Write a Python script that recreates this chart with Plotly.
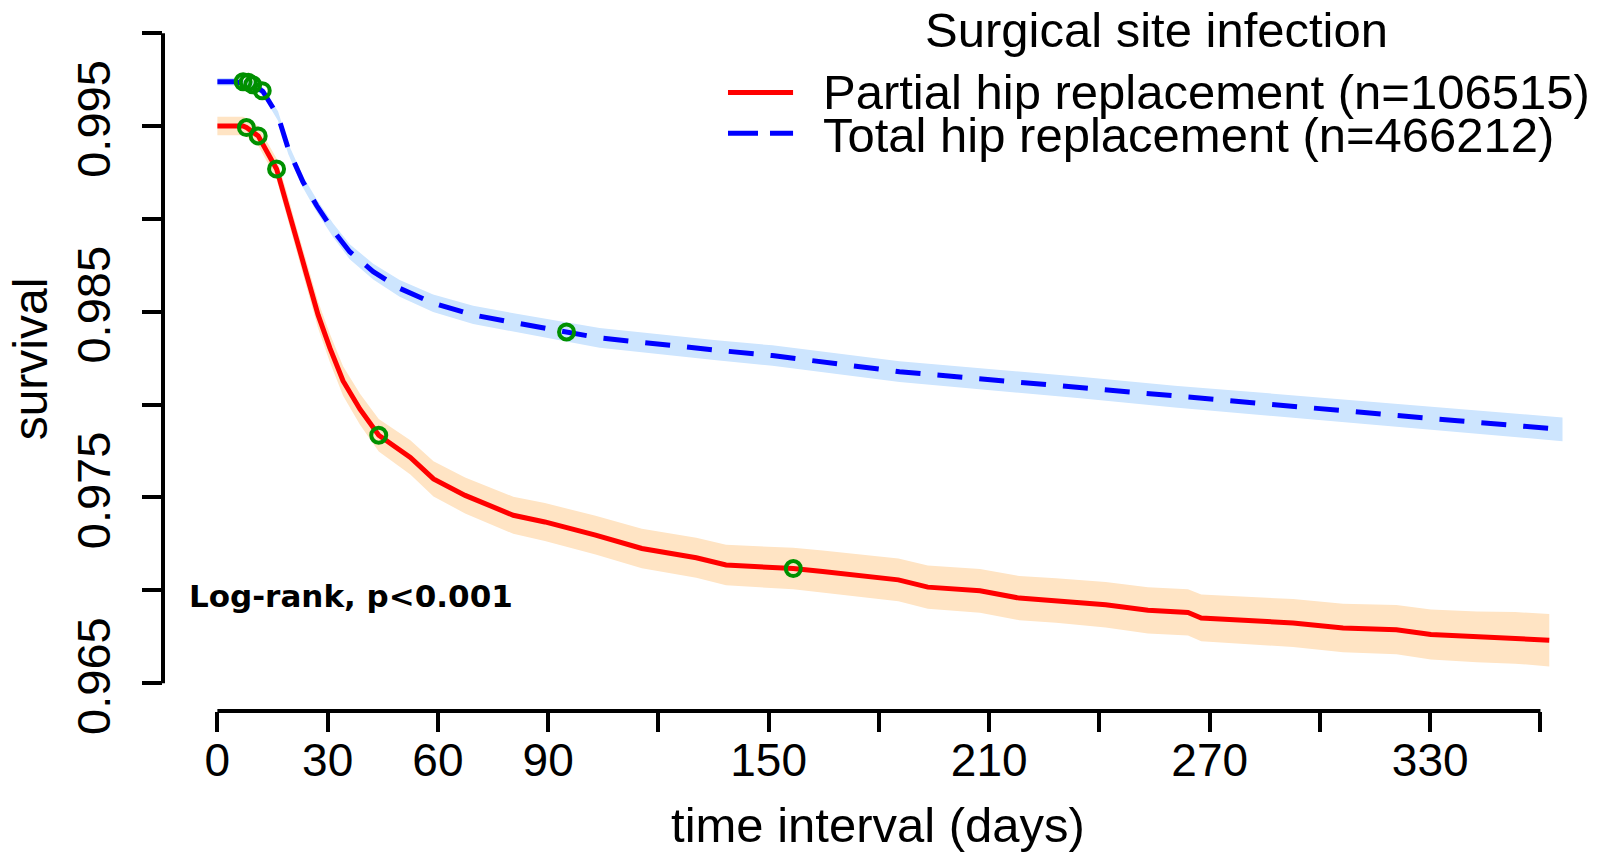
import plotly.graph_objects as go

# ---------------- data ----------------
days_partial = [0, 7, 7.9, 11.1, 16.1, 18.8, 21.5, 24.3, 27.4, 30.6, 34.2, 38.8, 43.9, 52.5,
                58.8, 67.4, 80.5, 89.1, 102.9, 115.5, 130.3, 138.4, 156.7, 164.7, 185.3,
                193.3, 207.5, 218.2, 228.2, 241.7, 253.2, 264.1, 267.7, 292.7, 306.3, 320.8,
                330.2, 342.7, 353.1, 362.4]
surv_partial = [0.99500, 0.99500, 0.99492, 0.99447, 0.99269, 0.99090, 0.98894, 0.98698,
                0.98483, 0.98305, 0.98127, 0.97975, 0.97835, 0.97716, 0.97600, 0.97511,
                0.97404, 0.97368, 0.97297, 0.97225, 0.97175, 0.97136, 0.97117, 0.97101,
                0.97056, 0.97017, 0.96997, 0.96958, 0.96945, 0.96922, 0.96892, 0.96881,
                0.96851, 0.96824, 0.96797, 0.96788, 0.96762, 0.96749, 0.96744, 0.96731]
upper_partial = [0.99550, 0.99550, 0.99542, 0.99499, 0.99325, 0.99150, 0.98958, 0.98766,
                 0.98555, 0.98381, 0.98207, 0.98059, 0.97923, 0.97808, 0.97695, 0.97608,
                 0.97504, 0.97470, 0.97401, 0.97331, 0.97283, 0.97245, 0.97229, 0.97214,
                 0.97171, 0.97133, 0.97115, 0.97077, 0.97065, 0.97044, 0.97016, 0.97006,
                 0.96977, 0.96953, 0.96928, 0.96921, 0.96897, 0.96886, 0.96883, 0.96872]
lower_partial = [0.99450, 0.99450, 0.99442, 0.99395, 0.99213, 0.99030, 0.98830, 0.98630,
                 0.98411, 0.98229, 0.98047, 0.97891, 0.97747, 0.97624, 0.97505, 0.97414,
                 0.97304, 0.97266, 0.97193, 0.97119, 0.97067, 0.97027, 0.97005, 0.96988,
                 0.96941, 0.96901, 0.96879, 0.96839, 0.96825, 0.96800, 0.96768, 0.96756,
                 0.96725, 0.96695, 0.96666, 0.96655, 0.96627, 0.96612, 0.96605, 0.96590]

days_total = [0, 5, 10.2, 12.4, 16.5, 19.3, 23.3, 27.0, 31.5, 36.0, 42.4, 49.6, 58.7, 69.6,
              81.4, 95.0, 104.0, 135.8, 151.0, 185.6, 207.4, 235.5, 260.5, 285.4, 311.5,
              337.5, 362.0, 366.0]
surv_total = [0.99738, 0.99738, 0.99715, 0.99686, 0.99554, 0.99376, 0.99198, 0.99072,
              0.98938, 0.98823, 0.98716, 0.98626, 0.98546, 0.98483, 0.98439, 0.98391,
              0.98359, 0.98293, 0.98264, 0.98177, 0.98139, 0.98091, 0.98043, 0.98002,
              0.97957, 0.97913, 0.97873, 0.97867]
upper_total = [0.99758, 0.99758, 0.99736, 0.99708, 0.99579, 0.99404, 0.99229, 0.99106,
               0.98975, 0.98863, 0.98759, 0.98671, 0.98593, 0.98532, 0.98489, 0.98443,
               0.98412, 0.98347, 0.98319, 0.98233, 0.98196, 0.98149, 0.98102, 0.98062,
               0.98018, 0.97975, 0.97936, 0.97931]
lower_total = [0.99718, 0.99718, 0.99694, 0.99664, 0.99529, 0.99348, 0.99167, 0.99038,
               0.98901, 0.98783, 0.98673, 0.98581, 0.98499, 0.98434, 0.98389, 0.98339,
               0.98306, 0.98239, 0.98209, 0.98121, 0.98082, 0.98033, 0.97984, 0.97942,
               0.97896, 0.97851, 0.97810, 0.97803]

censor_days_partial = [7.9, 11.1, 16.1, 43.9, 156.7]
censor_surv_partial = [0.99492, 0.99447, 0.99269, 0.97835, 0.97117]
censor_days_total = [7.0, 8.4, 9.6, 12.2, 95.0]
censor_surv_total = [0.99738, 0.99736, 0.99722, 0.99690, 0.98391]

x_tick_vals = [0, 30, 60, 90, 120, 150, 180, 210, 240, 270, 300, 330, 360]
x_tick_text = ["0", "30", "60", "90", "", "150", "", "210", "", "270", "", "330", ""]
y_tick_vals = [0.965, 0.970, 0.975, 0.980, 0.985, 0.990, 0.995, 1.000]
y_tick_text = ["0.965", "", "0.975", "", "0.985", "", "0.995", ""]

legend_title = "Surgical site infection"
name_partial = "Partial hip replacement (n=106515)"
name_total = "Total hip replacement (n=466212)"
stat_text = "Log-rank, p<0.001"

# ---------------- styles ----------------
FONT = "Liberation Sans, Arial, Helvetica, sans-serif"
RED = "#ff0000"
BLUE = "#0000ff"
RED_BAND = "#ffe4c4"
BLUE_BAND = "#cde5fe"
GREEN = "#009000"

fig = go.Figure()

fig.add_trace(go.Scatter(
    x=days_total + days_total[::-1], y=upper_total + lower_total[::-1],
    fill="toself", fillcolor=BLUE_BAND, line=dict(width=0), mode="lines",
    hoverinfo="skip", showlegend=False))
fig.add_trace(go.Scatter(
    x=days_partial + days_partial[::-1], y=upper_partial + lower_partial[::-1],
    fill="toself", fillcolor=RED_BAND, line=dict(width=0), mode="lines",
    hoverinfo="skip", showlegend=False))

fig.add_trace(go.Scatter(x=days_partial, y=surv_partial, mode="lines", name=name_partial,
                         line=dict(color=RED, width=5), showlegend=False))
fig.add_trace(go.Scatter(x=days_total, y=surv_total, mode="lines", name=name_total,
                         line=dict(color=BLUE, width=5, dash="25px,17px"), showlegend=False))

fig.add_trace(go.Scatter(x=censor_days_partial, y=censor_surv_partial, mode="markers",
                         marker=dict(symbol="circle-open", size=15, color=GREEN,
                                     line=dict(width=4, color=GREEN)),
                         showlegend=False))
fig.add_trace(go.Scatter(x=censor_days_total, y=censor_surv_total, mode="markers",
                         marker=dict(symbol="circle-open", size=15, color=GREEN,
                                     line=dict(width=4, color=GREEN)),
                         showlegend=False))

# axis lines (R-style, spanning only the tick range)
fig.add_shape(type="line", xref="x", yref="paper", x0=x_tick_vals[0], x1=x_tick_vals[-1],
              y0=0, y1=0, line=dict(color="black", width=4))
fig.add_shape(type="line", xref="paper", yref="y", x0=0, x1=0,
              y0=y_tick_vals[0], y1=y_tick_vals[-1], line=dict(color="black", width=4))

# legend drawn R-style
fig.add_annotation(text=legend_title, xref="paper", yref="paper", x=0.6951, y=0.968,
                   xanchor="center", yanchor="middle", showarrow=False, borderpad=0,
                   font=dict(family=FONT, size=49, color="black"))
fig.add_annotation(text=name_partial, xref="paper", yref="paper", x=0.4605, y=0.879,
                   xanchor="left", yanchor="middle", showarrow=False, borderpad=0,
                   font=dict(family=FONT, size=49, color="black"))
fig.add_annotation(text=name_total, xref="paper", yref="paper", x=0.4605, y=0.8184,
                   xanchor="left", yanchor="middle", showarrow=False, borderpad=0,
                   font=dict(family=FONT, size=49, color="black"))
fig.add_shape(type="line", xref="paper", yref="paper", x0=0.3951, x1=0.4406, y0=0.8785,
              y1=0.8785, line=dict(color=RED, width=5))
fig.add_shape(type="line", xref="paper", yref="paper", x0=0.3951, x1=0.4406, y0=0.8206,
              y1=0.8206, line=dict(color=BLUE, width=5, dash="30px,12px"))

fig.add_annotation(text="<b>" + stat_text + "</b>", xref="paper", yref="paper",
                   x=0.0165, y=0.163, xanchor="left", yanchor="middle", showarrow=False,
                   font=dict(family="DejaVu Sans, Verdana, sans-serif", size=31, color="black"))

fig.update_layout(
    width=1616, height=852,
    margin=dict(l=163, r=23, t=7, b=137, pad=0),
    paper_bgcolor="white", plot_bgcolor="white",
    font=dict(family=FONT, color="black"),
    showlegend=False,
    xaxis=dict(range=[-14.8, 374.3], tickmode="array", tickvals=x_tick_vals,
               ticktext=x_tick_text, ticks="outside", ticklen=20, tickwidth=4,
               tickcolor="black", showline=False, showgrid=False, zeroline=False,
               tickfont=dict(family=FONT, size=46, color="black"), ticklabelstandoff=-11,
               title=dict(text="time interval (days)", font=dict(family=FONT, size=49),
                          standoff=24)),
    yaxis=dict(range=[0.9635, 1.00141], tickmode="array", tickvals=y_tick_vals,
               ticktext=y_tick_text, ticks="outside", ticklen=20, tickwidth=4,
               tickcolor="black", showline=False, showgrid=False, zeroline=False,
               tickangle=-90, tickfont=dict(family=FONT, size=47, color="black"),
               ticklabelstandoff=13,
               title=dict(text="survival", font=dict(family=FONT, size=48), standoff=4)),
)

fig.write_html("out.html")
